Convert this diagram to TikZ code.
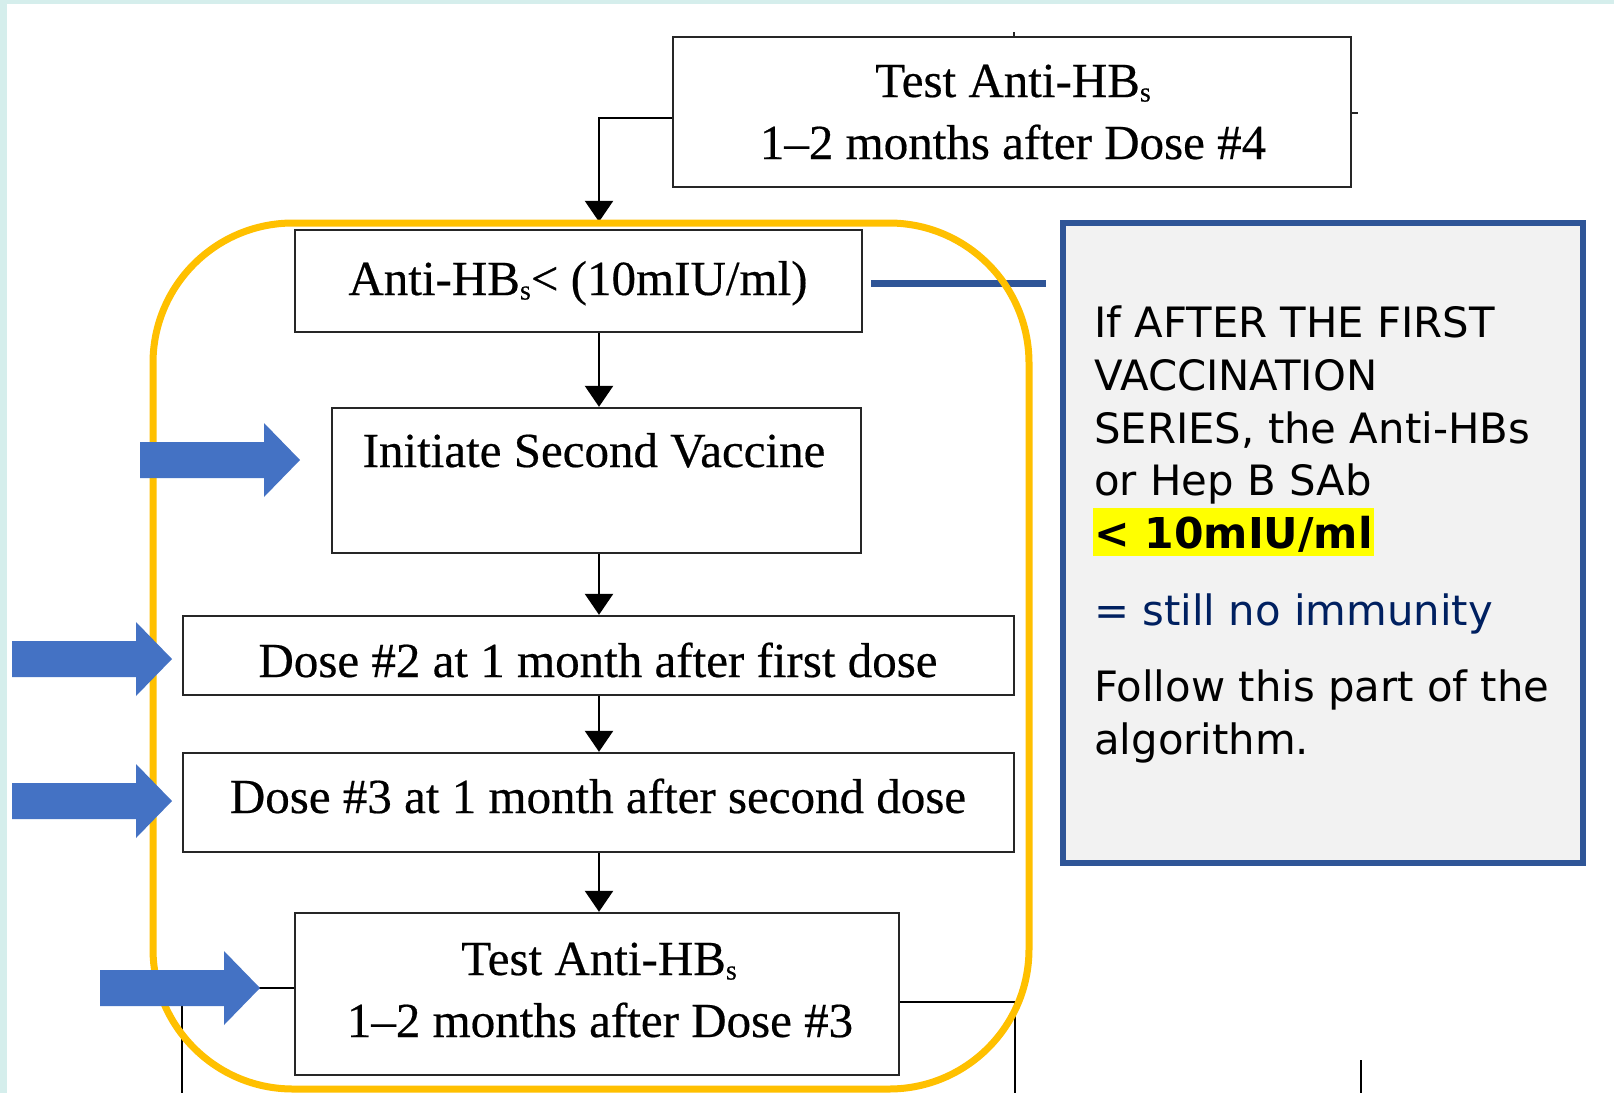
\documentclass[tikz,border=0pt]{standalone}
\usepackage{fontspec}
\setmainfont{Liberation Serif}[FakeBold=0.4]
\newfontfamily\notefont{DejaVu Sans}
\usetikzlibrary{arrows.meta,calc}
\definecolor{tealbg}{HTML}{D5EEEC}
\definecolor{frameyellow}{HTML}{FFC000}
\definecolor{arrowblue}{HTML}{4472C4}
\definecolor{darkblue}{HTML}{2F5597}
\definecolor{notefill}{HTML}{F2F2F2}
\definecolor{navy}{HTML}{002060}
\definecolor{hl}{HTML}{FFFF00}
\definecolor{boxgray}{HTML}{262626}
\begin{document}
\begin{tikzpicture}[x=1pt,y=-1pt,
  box/.style={draw=boxgray, line width=2.4pt, fill=white, inner sep=0pt},
  conn/.style={draw=black, line width=2.6pt},
  arr/.style={conn, -{Triangle[width=28pt,length=21pt]}},
  serif/.style={font=\fontsize{49}{58}\selectfont, anchor=base, inner sep=0pt},
  notetxt/.style={font=\notefont\fontsize{41.8}{50}\selectfont, anchor=base west, inner sep=0pt},
  blockarr/.pic={\fill[arrowblue] (0,0) -- (-36,-37) -- (-36,-18) -- (-160,-18) -- (-160,18) -- (-36,18) -- (-36,37) -- cycle;}
]
% background
\fill[tealbg] (0,0) rectangle (1614,1093);
\fill[white] (7,4) rectangle (1614,1093);
\useasboundingbox (0,0) rectangle (1614,1093);

\coordinate (ax) at (599,0);
\coordinate (bot) at (0,1093);

% small ticks
\coordinate (tk1a) at (1014,32);
\coordinate (tk1b) at (1014,37);
\draw[boxgray, line width=1.5pt] (tk1a) -- (tk1b);
\coordinate (tk2a) at (1351,113);
\coordinate (tk2b) at (1358,113);
\draw[boxgray, line width=1.5pt] (tk2a) -- (tk2b);
\coordinate (tk3a) at (1361,1060);
\coordinate (tk3b) at (1361,1093);
\draw[black, line width=2pt] (tk3a) -- (tk3b);

% boxes
\node[box, minimum width=678pt, minimum height=150pt] (top) at (1012,112) {};
\node[box, minimum width=567pt, minimum height=102pt] (anti) at (578.5,281) {};
\node[box, minimum width=529pt, minimum height=145pt] (init) at (596.5,480.5) {};
\node[box, minimum width=831pt, minimum height=79pt] (dose2) at (598.5,655.5) {};
\node[box, minimum width=831pt, minimum height=99pt] (dose3) at (598.5,802.5) {};
\node[box, minimum width=604pt, minimum height=162pt] (test2) at (597,994) {};

% box texts
\node[serif] (topa) at (1013,97) {Test Anti-HB\raisebox{-0.2ex}{\fontsize{28}{28}\selectfont s}};
\node[serif] (topb) at (1013,159) {1--2 months after Dose \#4};
\node[serif] (antit) at (578,295) {Anti-HB\raisebox{-0.2ex}{\fontsize{28}{28}\selectfont s}< (10mIU/ml)};
\node[serif] (initt) at (594,467) {Initiate Second Vaccine};
\node[serif] (dose2t) at (598,677) {Dose \#2 at 1 month after first dose};
\node[serif] (dose3t) at (598,813) {Dose \#3 at 1 month after second dose};
\node[serif] (test2a) at (599,975) {Test Anti-HB\raisebox{-0.2ex}{\fontsize{28}{28}\selectfont s}};
\node[serif] (test2b) at (600,1037) {1--2 months after Dose \#3};

% connectors
\draw[arr, shorten >=7pt] ([yshift=-6pt]top.west) -| (anti.north -| ax);
\draw[arr] (anti.south -| ax) -- (init.north -| ax);
\draw[arr] (init.south -| ax) -- (dose2.north -| ax);
\draw[arr] (dose2.south -| ax) -- (dose3.north -| ax);
\draw[arr] (dose3.south -| ax) -- (test2.north -| ax);
\draw[conn, line width=2.2pt] ([yshift=6pt]test2.west) -| (dose3.west |- bot);
\draw[conn, line width=2.2pt] ([yshift=-8pt]test2.east) -| (dose3.east |- bot);

% note box
\node[draw=darkblue, line width=6pt, fill=notefill, minimum width=520pt, minimum height=640pt, inner sep=0pt] (note) at (1323,543) {};
\draw[darkblue, line width=7pt, shorten <=8pt, shorten >=14pt] ([yshift=-2pt]anti.east) -- ([yshift=-2pt]anti.east -| note.west);

\node[notetxt] (n1) at (1094,337) {If AFTER THE FIRST};
\node[notetxt] (n2) at (1094,390) {VACCINATION};
\node[notetxt] (n3) at (1094,443) {SERIES, the Anti-HBs};
\node[notetxt] (n4) at (1094,495) {or Hep B SAb};
\node[notetxt, font=\notefont\bfseries\fontsize{42.5}{50}\selectfont, fill=hl, text height=40pt, text depth=8pt, inner xsep=1pt] (n5) at (1093,548) {< 10mIU/ml\hspace{4pt}};
\node[notetxt, text=navy] (n6) at (1094,625) {= still no immunity};
\node[notetxt] (n7) at (1094,701) {Follow this part of the};
\node[notetxt] (n8) at (1094,754) {algorithm.};

% yellow frame
\node[draw=frameyellow, line width=7pt, rounded corners=140pt, minimum width=876pt, minimum height=866pt, inner sep=0pt] (group) at (591,656) {};

% blue block arrows
\pic at (300,460) {blockarr};
\pic at (172,659) {blockarr};
\pic at (172,801) {blockarr};
\pic at (260,988) {blockarr};
\end{tikzpicture}
\end{document}
